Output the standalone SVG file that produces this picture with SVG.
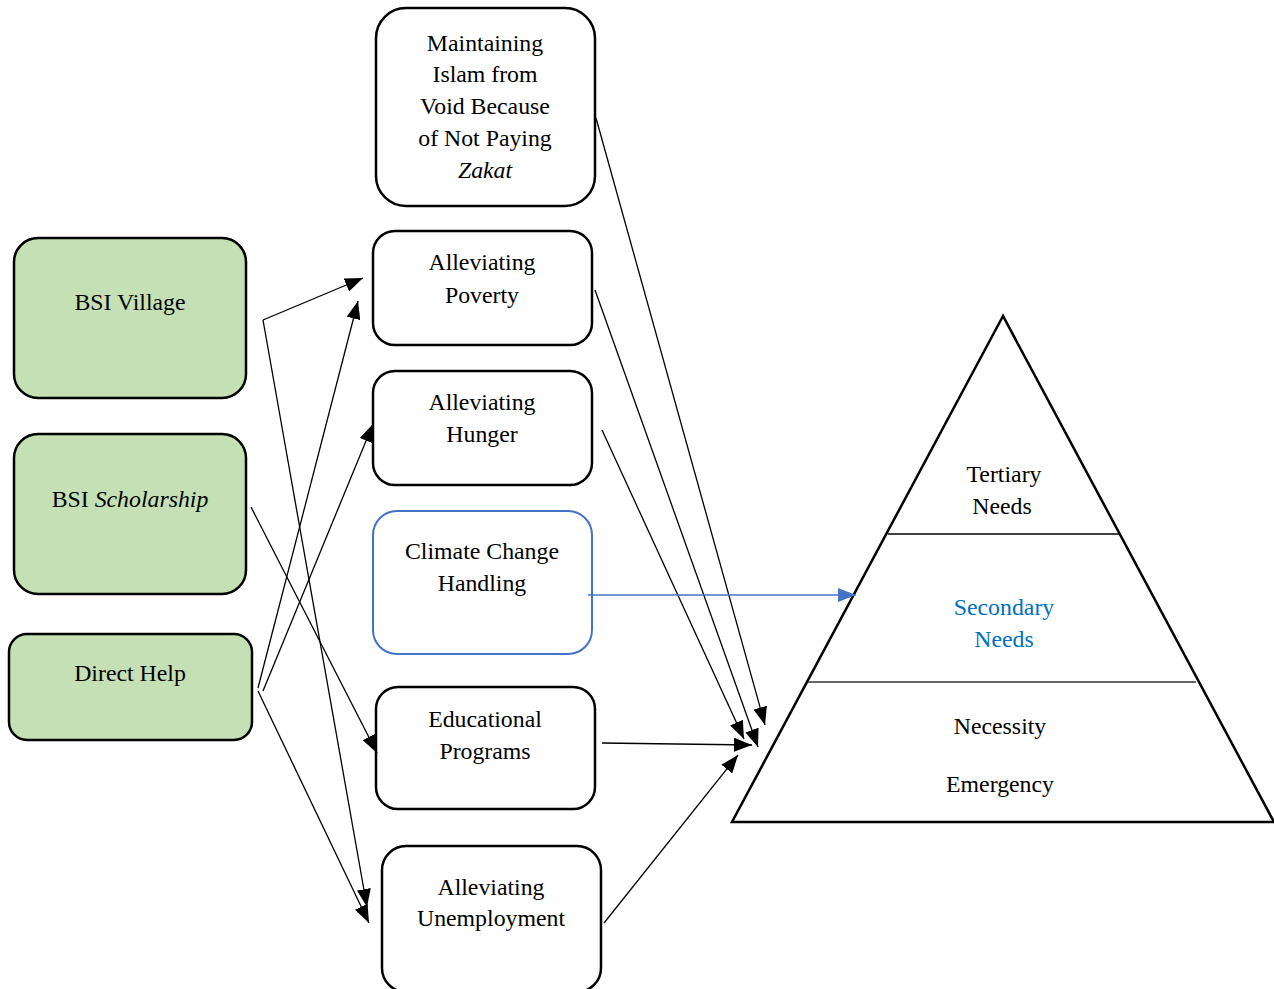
<svg xmlns="http://www.w3.org/2000/svg" width="1274" height="989" viewBox="0 0 1274 989">
<style>
text{font-family:"Liberation Serif","Times New Roman",serif;font-size:23.8px;fill:#000;text-anchor:middle}
.box{fill:#fff;stroke:#000;stroke-width:2.5}
.green{fill:#c5e0b4;stroke:#000;stroke-width:2.5}
.blue{fill:#fff;stroke:#4472c4;stroke-width:2}
.c{stroke:#000;stroke-width:1.3;fill:none;marker-end:url(#ah)}
.cb{stroke:#4472c4;stroke-width:1.3;fill:none;marker-end:url(#ahb)}
</style>
<defs>
<marker id="ah" markerUnits="userSpaceOnUse" markerWidth="18" markerHeight="14" viewBox="0 0 18 14" refX="18" refY="7" orient="auto"><path d="M0,0L18,7L0,14z" fill="#000"/></marker>
<marker id="ahb" markerUnits="userSpaceOnUse" markerWidth="18" markerHeight="14" viewBox="0 0 18 14" refX="18" refY="7" orient="auto"><path d="M0,0L18,7L0,14z" fill="#4472c4"/></marker>
</defs>
<rect width="1274" height="989" fill="#fff"/>
<g id="pyramid">
<path d="M1003,316L732,822L1274,822z" fill="#fff" stroke="#000" stroke-width="2.5" stroke-linejoin="miter"/>
<line x1="888" y1="534" x2="1120" y2="534" stroke="#000" stroke-width="1.3"/>
<line x1="808" y1="682" x2="1196" y2="682" stroke="#333" stroke-width="1.3"/>
<text x="1004" y="482">Tertiary</text>
<text x="1002" y="514">Needs</text>
<text x="1004" y="615" style="fill:#0070c0">Secondary</text>
<text x="1004" y="647" style="fill:#0070c0">Needs</text>
<text x="1000" y="734">Necessity</text>
<text x="1000" y="792">Emergency</text>
</g>
<g id="maintaining">
<rect class="box" x="376" y="8" width="219" height="198" rx="30"/>
<text x="485" y="51">Maintaining</text>
<text x="485" y="82">Islam from</text>
<text x="485" y="114">Void Because</text>
<text x="485" y="146">of Not Paying</text>
<text x="485" y="178" font-style="italic">Zakat</text>
</g>
<g id="poverty">
<rect class="box" x="373" y="231" width="219" height="114" rx="22"/>
<text x="482" y="270">Alleviating</text>
<text x="482" y="303">Poverty</text>
</g>
<g id="hunger">
<rect class="box" x="373" y="371" width="219" height="114" rx="22"/>
<text x="482" y="410">Alleviating</text>
<text x="482" y="442">Hunger</text>
</g>
<g id="climate">
<rect class="blue" x="373" y="511" width="219" height="143" rx="24"/>
<text x="482" y="559">Climate Change</text>
<text x="482" y="591">Handling</text>
</g>
<g id="educational">
<rect class="box" x="376" y="687" width="219" height="122" rx="22"/>
<text x="485" y="727">Educational</text>
<text x="485" y="759">Programs</text>
</g>
<g id="unemployment">
<rect class="box" x="382" y="846" width="219" height="146" rx="24"/>
<text x="491" y="895">Alleviating</text>
<text x="491" y="926">Unemployment</text>
</g>
<g id="bsi-village">
<rect class="green" x="14" y="238" width="232" height="160" rx="24"/>
<text x="130" y="310">BSI Village</text>
</g>
<g id="bsi-scholarship">
<rect class="green" x="14" y="434" width="232" height="160" rx="24"/>
<text x="130" y="507">BSI <tspan font-style="italic">Scholarship</tspan></text>
</g>
<g id="direct-help">
<rect class="green" x="9" y="634" width="243" height="106" rx="18"/>
<text x="130" y="681">Direct Help</text>
</g>
<g id="connectors">
<line class="c" x1="263" y1="320" x2="363" y2="278"/>
<line class="c" x1="263" y1="320" x2="367" y2="907"/>
<line class="c" x1="251" y1="507" x2="377" y2="753"/>
<line class="c" x1="258" y1="688" x2="358" y2="301"/>
<line class="c" x1="263" y1="691" x2="373" y2="424"/>
<line class="c" x1="258" y1="691" x2="369" y2="923"/>
<line class="c" x1="596" y1="118" x2="765" y2="725"/>
<line class="c" x1="595" y1="290" x2="758" y2="747"/>
<line class="c" x1="602" y1="430" x2="744" y2="739"/>
<line class="c" x1="602" y1="743" x2="752" y2="745"/>
<line class="c" x1="604" y1="923" x2="738" y2="755"/>
<line class="cb" x1="588" y1="595" x2="856" y2="595"/>
</g>
</svg>
